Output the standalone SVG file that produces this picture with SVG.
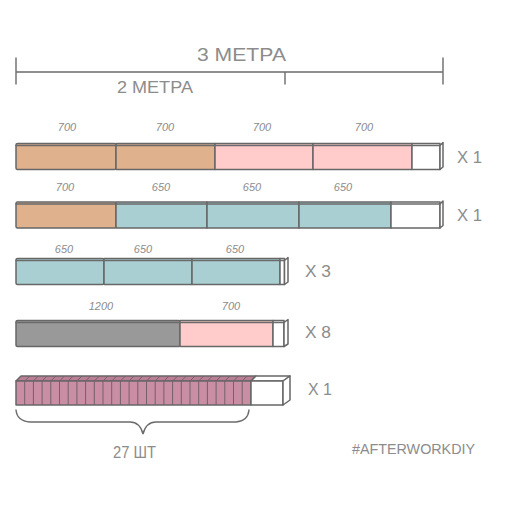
<svg xmlns="http://www.w3.org/2000/svg" width="506" height="506" viewBox="0 0 506 506">
<defs>
<style>
.o{stroke:#676767;stroke-width:1.5;stroke-linejoin:round;stroke-linecap:round}
.t{fill:#dfb18c}.p{fill:#ffcbcb}.b{fill:#aacfd2}.g{fill:#999}.w{fill:#fff}.m{fill:#c98ea3}.md{fill:#bb7f95}
.big{font-family:"Liberation Sans",Arial,sans-serif;fill:#8c8c8c}
.sm{font-family:"Liberation Sans",Arial,sans-serif;font-style:italic;font-size:11px;fill:#8c8c8c;text-anchor:middle}
.ln{fill:none;stroke:#6b6b6b;stroke-width:1.4;stroke-linecap:round}
</style>
</defs>
<rect width="506" height="506" fill="#fff"/>

<g id="ruler">
<path class="ln" d="M16,72 L443,72 M16,58 L16,84 M443,58 L443,84 M285,72 L285,84"/>
<text class="big" x="197" y="61" font-size="18" textLength="89" lengthAdjust="spacingAndGlyphs">3 МЕТРА</text>
<text class="big" x="117" y="93" font-size="16" textLength="76" lengthAdjust="spacingAndGlyphs">2 МЕТРА</text>
</g>

<g id="bar1">
<rect class="o t" x="16" y="143.5" width="100" height="26" rx="1.5"/>
<rect class="o t" x="116" y="143.5" width="99" height="26"/>
<rect class="o p" x="215" y="143.5" width="98" height="26"/>
<rect class="o p" x="313" y="143.5" width="99" height="26"/>
<rect class="o w" x="412" y="143.5" width="28" height="26"/>
<path class="o w" d="M440,145.5 L443,142.5 L443,167 L440,169.5 Z"/>
<path class="ln" d="M16,145.5 L440,145.5" stroke-width="0.8"/>
<text class="sm" x="67" y="131">700</text>
<text class="sm" x="165" y="131">700</text>
<text class="sm" x="262" y="131">700</text>
<text class="sm" x="364" y="131">700</text>
<text class="big" x="457" y="163" font-size="17" textLength="25" lengthAdjust="spacingAndGlyphs">X 1</text>
</g>

<g id="bar2">
<rect class="o t" x="16" y="202" width="100" height="26" rx="1.5"/>
<rect class="o b" x="116" y="202" width="91" height="26"/>
<rect class="o b" x="207" y="202" width="92" height="26"/>
<rect class="o b" x="299" y="202" width="92" height="26"/>
<rect class="o w" x="391" y="202" width="49" height="26"/>
<path class="o w" d="M440,204 L443,201 L443,225.5 L440,228 Z"/>
<path class="ln" d="M16,204 L440,204" stroke-width="0.8"/>
<text class="sm" x="65" y="191">700</text>
<text class="sm" x="161" y="191">650</text>
<text class="sm" x="252" y="191">650</text>
<text class="sm" x="343" y="191">650</text>
<text class="big" x="457" y="221" font-size="17" textLength="25" lengthAdjust="spacingAndGlyphs">X 1</text>
</g>

<g id="bar3">
<rect class="o b" x="16" y="258.5" width="88" height="26" rx="1.5"/>
<rect class="o b" x="104" y="258.5" width="88" height="26"/>
<rect class="o b" x="192" y="258.5" width="88" height="26"/>
<rect class="o w" x="280" y="258.5" width="4.5" height="26"/>
<path class="o w" d="M284.5,260.5 L288,257.5 L288,282 L284.5,284.5 Z"/>
<path class="ln" d="M16,260.5 L284,260.5" stroke-width="0.8"/>
<text class="sm" x="64" y="253">650</text>
<text class="sm" x="143" y="253">650</text>
<text class="sm" x="235" y="253">650</text>
<text class="big" x="305" y="277" font-size="17" textLength="26" lengthAdjust="spacingAndGlyphs">X 3</text>
</g>

<g id="bar4">
<rect class="o g" x="16" y="320.5" width="164" height="26" rx="1.5"/>
<rect class="o p" x="180" y="320.5" width="93" height="26"/>
<rect class="o w" x="273" y="320.5" width="11" height="26"/>
<path class="o w" d="M284,322.5 L288,319.5 L288,344 L284,346.5 Z"/>
<path class="ln" d="M16,322.5 L284,322.5" stroke-width="0.8"/>
<text class="sm" x="101" y="310">1200</text>
<text class="sm" x="231" y="310">700</text>
<text class="big" x="305" y="338" font-size="17" textLength="26" lengthAdjust="spacingAndGlyphs">X 8</text>
</g>

<g id="bar5">
<path class="o md" d="M16,381 L21,376 L256,376 L251,381 Z"/>
<path class="o m" d="M16,381 L251,381 L251,405 L16,405 Z"/>
<path fill="none" stroke="#76606a" stroke-width="1" d="M24.7,381V405M33.4,381V405M42.1,381V405M50.8,381V405M59.5,381V405M68.2,381V405M76.9,381V405M85.6,381V405M94.3,381V405M103,381V405M111.7,381V405M120.4,381V405M129.1,381V405M137.8,381V405M146.5,381V405M155.2,381V405M163.9,381V405M172.6,381V405M181.3,381V405M190,381V405M198.7,381V405M207.4,381V405M216.1,381V405M224.8,381V405M233.5,381V405M242.2,381V405
M24.7,381L29.7,376M33.4,381L38.4,376M42.1,381L47.1,376M50.8,381L55.8,376M59.5,381L64.5,376M68.2,381L73.2,376M76.9,381L81.9,376M85.6,381L90.6,376M94.3,381L99.3,376M103,381L108,376M111.7,381L116.7,376M120.4,381L125.4,376M129.1,381L134.1,376M137.8,381L142.8,376M146.5,381L151.5,376M155.2,381L160.2,376M163.9,381L168.9,376M172.6,381L177.6,376M181.3,381L186.3,376M190,381L195,376M198.7,381L203.7,376M207.4,381L212.4,376M216.1,381L221.1,376M224.8,381L229.8,376M233.5,381L238.5,376M242.2,381L247.2,376"/>
<path class="o w" d="M251,381 L256,376 L290,376 L283,381 Z"/>
<rect class="o w" x="251" y="381" width="32" height="24"/>
<path class="o w" d="M283,381 L290,376 L290,400 L283,405 Z"/>
<text class="big" x="308" y="395" font-size="17" textLength="24" lengthAdjust="spacingAndGlyphs">X 1</text>
</g>

<g id="brace">
<path class="ln" d="M16,410 Q17,421 30,422 L130,422 Q140,422 143,434 Q146,422 156,422 L236,422 Q248,421 249,410"/>
<text class="big" x="113" y="458" font-size="17" textLength="43" lengthAdjust="spacingAndGlyphs">27 ШТ</text>
</g>

<g id="tag">
<text class="big" x="352" y="454" font-size="14" textLength="123" lengthAdjust="spacingAndGlyphs">#AFTERWORKDIY</text>
</g>
</svg>
